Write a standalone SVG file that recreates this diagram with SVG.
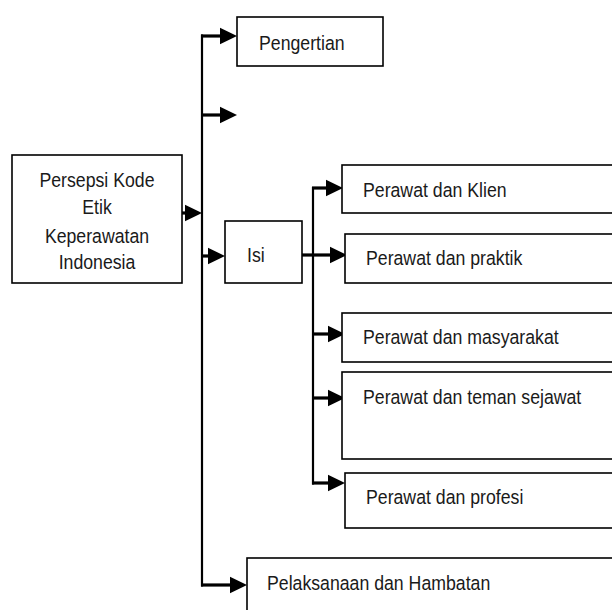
<svg xmlns="http://www.w3.org/2000/svg" width="612" height="610" viewBox="0 0 612 610">
<style>
.box{fill:#fff;stroke:#000;stroke-width:1.6}
.t{font-family:"Liberation Sans",Arial,sans-serif;font-size:17.7px;fill:#1a1a1a}
.c{text-anchor:middle}
.v{fill:none;stroke:#000;stroke-width:2.2}
.h{fill:none;stroke:#000;stroke-width:3.2}
.ah{fill:#000}
</style>
<defs>
<polygon id="head" points="0,-8.3 17,0 0,8.3"/>
</defs>
<rect width="612" height="610" fill="#fff"/>
<g id="connectors">
<line class="v" x1="202" y1="34.5" x2="202" y2="586.5"/>
<line class="h" x1="201" y1="36" x2="222" y2="36"/>
<use href="#head" class="ah" x="220" y="36"/>
<line class="h" x1="201" y1="115" x2="222" y2="115"/>
<use href="#head" class="ah" x="220" y="115"/>
<line class="h" x1="182" y1="213" x2="187" y2="213"/>
<use href="#head" class="ah" x="185" y="213"/>
<line class="h" x1="201" y1="256" x2="210" y2="256"/>
<use href="#head" class="ah" x="208" y="256"/>
<line class="h" x1="201" y1="585" x2="232" y2="585"/>
<use href="#head" class="ah" x="230" y="585"/>
<line class="h" x1="302" y1="255" x2="332" y2="255"/>
<use href="#head" class="ah" x="330" y="255"/>
<line class="v" x1="313" y1="187" x2="313" y2="484.5"/>
<line class="h" x1="312" y1="188" x2="328" y2="188"/>
<use href="#head" class="ah" x="326" y="188"/>
<line class="h" x1="312" y1="334" x2="330" y2="334"/>
<use href="#head" class="ah" x="328" y="334"/>
<line class="h" x1="312" y1="398" x2="330" y2="398"/>
<use href="#head" class="ah" x="328" y="398"/>
<line class="h" x1="312" y1="483" x2="330" y2="483"/>
<use href="#head" class="ah" x="328" y="483"/>
</g>
<g id="persepsi">
<rect class="box" x="12" y="155" width="170" height="128"/>
<text class="t c" transform="translate(97,187) scale(1,1.17)">Persepsi Kode</text>
<text class="t c" transform="translate(97,214) scale(1,1.17)">Etik</text>
<text class="t c" transform="translate(97,243) scale(1,1.17)">Keperawatan</text>
<text class="t c" transform="translate(97,269) scale(1,1.17)">Indonesia</text>
</g>
<g id="pengertian">
<rect class="box" x="237" y="17" width="146" height="49"/>
<text class="t" transform="translate(259,50) scale(1,1.17)">Pengertian</text>
</g>
<g id="isi">
<rect class="box" x="225" y="221" width="77" height="62"/>
<text class="t" transform="translate(247,262) scale(1,1.17)">Isi</text>
</g>
<g id="klien">
<rect class="box" x="342" y="165" width="271.5" height="48"/>
<text class="t" transform="translate(363,197) scale(1,1.17)">Perawat dan Klien</text>
</g>
<g id="praktik">
<rect class="box" x="345" y="234" width="268.5" height="49"/>
<text class="t" transform="translate(366,265) scale(1,1.17)">Perawat dan praktik</text>
</g>
<g id="masyarakat">
<rect class="box" x="342" y="313" width="271.5" height="49"/>
<text class="t" transform="translate(363,343.5) scale(1,1.17)">Perawat dan masyarakat</text>
</g>
<g id="teman">
<rect class="box" x="342" y="372" width="271.5" height="87"/>
<text class="t" transform="translate(363,404) scale(1,1.17)">Perawat dan teman sejawat</text>
</g>
<g id="profesi">
<rect class="box" x="345" y="473" width="268.5" height="55"/>
<text class="t" transform="translate(366,504) scale(1,1.17)">Perawat dan profesi</text>
</g>
<g id="pelaksanaan">
<rect class="box" x="247" y="558" width="366.5" height="53.5"/>
<text class="t" transform="translate(267,590) scale(1,1.17)">Pelaksanaan dan Hambatan</text>
</g>
</svg>
